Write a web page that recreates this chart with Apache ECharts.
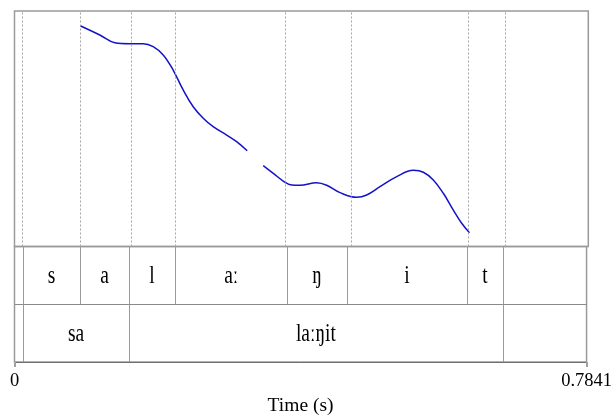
<!DOCTYPE html>
<html>
<head>
<meta charset="utf-8">
<script src="https://cdn.jsdelivr.net/npm/echarts@6/dist/echarts.min.js"></script>
<style>html,body{margin:0;padding:0;background:#fff}#c{width:615px;height:417px}</style>
</head>
<body>
<div id="c"></div>
<script>
const timeMax = 0.7841;
const pitchTimes = [0.0897,0.1166,0.1371,0.1576,0.1758,0.1895,0.2032,0.2168,0.2305,0.2442,0.2579,0.2715,0.2899,0.3035,0.3180,
  0.3290,
  0.3399,0.3536,0.3672,0.3787,0.3901,0.4129,0.4266,0.4448,0.4676,0.4813,0.4994,0.5223,0.5450,0.5587,0.5723,0.5860,0.5997,0.6111,0.6217];
const pitchHz = [240.6,234.7,229.8,229.2,229.2,227.3,222.0,212.4,199.7,189.0,181.7,176.3,171.0,166.8,161.0,
  null,
  151.5,146.6,141.7,139.2,139.0,140.6,139.0,134.3,131.3,132.8,138.1,144.5,148.5,147.3,142.4,133.9,123.2,114.8,108.8];
const phoneBounds = [0, 0.0120, 0.0898, 0.1568, 0.2201, 0.3739, 0.4554, 0.6206, 0.6694, 0.7841];
const phoneLabels = ["", "s", "a", "l", "aː", "ŋ", "i", "t", ""];
const wordBounds = [0, 0.0120, 0.1568, 0.6694, 0.7841];
const wordLabels = ["", "sa", "laːŋit", ""];
const timeTickLabels = ["0", "0.7841"];

const pitchData = pitchTimes.map((t, i) => [t, pitchHz[i] === null ? '-' : pitchHz[i]]);
const tierItems = [];
phoneLabels.forEach((l, i) => tierItems.push({ value: [phoneBounds[i], phoneBounds[i + 1], 1], label: l }));
wordLabels.forEach((l, i) => tierItems.push({ value: [wordBounds[i], wordBounds[i + 1], 0], label: l }));
const dottedLines = phoneBounds.slice(1, -1).map(t => ({ xAxis: t }));

const FONT = "'Liberation Serif','Times New Roman',serif";
const chart = echarts.init(document.getElementById('c'), null, { renderer: 'canvas' });
chart.setOption({
  animation: false,
  grid: [
    { left: 14.5, right: 26.7, top: 11, height: 235.5, show: true, borderColor: '#9a9a9a', borderWidth: 1.5, backgroundColor: 'transparent' },
    { left: 14.5, right: 26.7, top: 246.5, height: 116.8, show: true, borderColor: '#9a9a9a', borderWidth: 1.5, backgroundColor: 'transparent' }
  ],
  xAxis: [
    { type: 'value', gridIndex: 0, min: 0, max: timeMax, show: false },
    { type: 'value', gridIndex: 1, min: 0, max: timeMax, interval: timeMax,
      axisLine: { show: true, lineStyle: { color: '#6e6e6e', width: 1 } },
      axisTick: { show: true, length: 5, lineStyle: { color: '#a0a0a0', width: 2 } },
      splitLine: { show: false },
      axisLabel: { show: true, margin: 10, color: '#000', fontFamily: FONT, fontSize: 18.5,
        showMinLabel: true, showMaxLabel: true,
        formatter: v => (v === 0 ? timeTickLabels[0] : timeTickLabels[1]) },
      name: 'Time (s)', nameLocation: 'middle', nameGap: 34,
      nameTextStyle: { color: '#000', fontFamily: FONT, fontSize: 19.5 } }
  ],
  yAxis: [
    { type: 'value', gridIndex: 0, min: 100, max: 250, show: false },
    { type: 'value', gridIndex: 1, min: 0, max: 2, show: false }
  ],
  series: [
    {
      type: 'line', xAxisIndex: 0, yAxisIndex: 0, data: pitchData, showSymbol: false, symbol: 'none',
      smooth: 0.4, connectNulls: false,
      lineStyle: { color: '#1212c8', width: 1.5 },
      markLine: { silent: true, symbol: ['none', 'none'], label: { show: false },
        lineStyle: { type: [2, 2], color: '#a4a4a4', width: 1 }, data: dottedLines }
    },
    {
      type: 'custom', xAxisIndex: 1, yAxisIndex: 1, silent: true,
      data: tierItems.map(d => d.value),
      renderItem: function (params, api) {
        const s = api.value(0), e = api.value(1), tier = api.value(2);
        const label = tierItems[params.dataIndex].label;
        const x0 = api.coord([s, tier])[0];
        const x1 = api.coord([e, tier])[0];
        const yb = api.coord([s, tier])[1];
        const yt = api.coord([s, tier + 1])[1];
        const children = [];
        if (s > 0) {
          children.push({ type: 'line', shape: { x1: Math.round(x0) + 0.5, y1: yt, x2: Math.round(x0) + 0.5, y2: yb },
            style: { stroke: '#9a9a9a', lineWidth: 1 } });
        }
        if (tier === 0) {
          children.push({ type: 'line', shape: { x1: x0, y1: Math.round(yt) + 0.5, x2: x1, y2: Math.round(yt) + 0.5 },
            style: { stroke: '#8a8a8a', lineWidth: 1 } });
        }
        if (label) {
          children.push({ type: 'text', x: (x0 + x1) / 2, y: (yt + yb) / 2 + 1, scaleY: 1.3,
            style: { text: label, fontSize: 19.5, fontFamily: FONT, fill: '#000', align: 'center', verticalAlign: 'middle' } });
        }
        return { type: 'group', children: children };
      }
    }
  ]
});
</script>
</body>
</html>
